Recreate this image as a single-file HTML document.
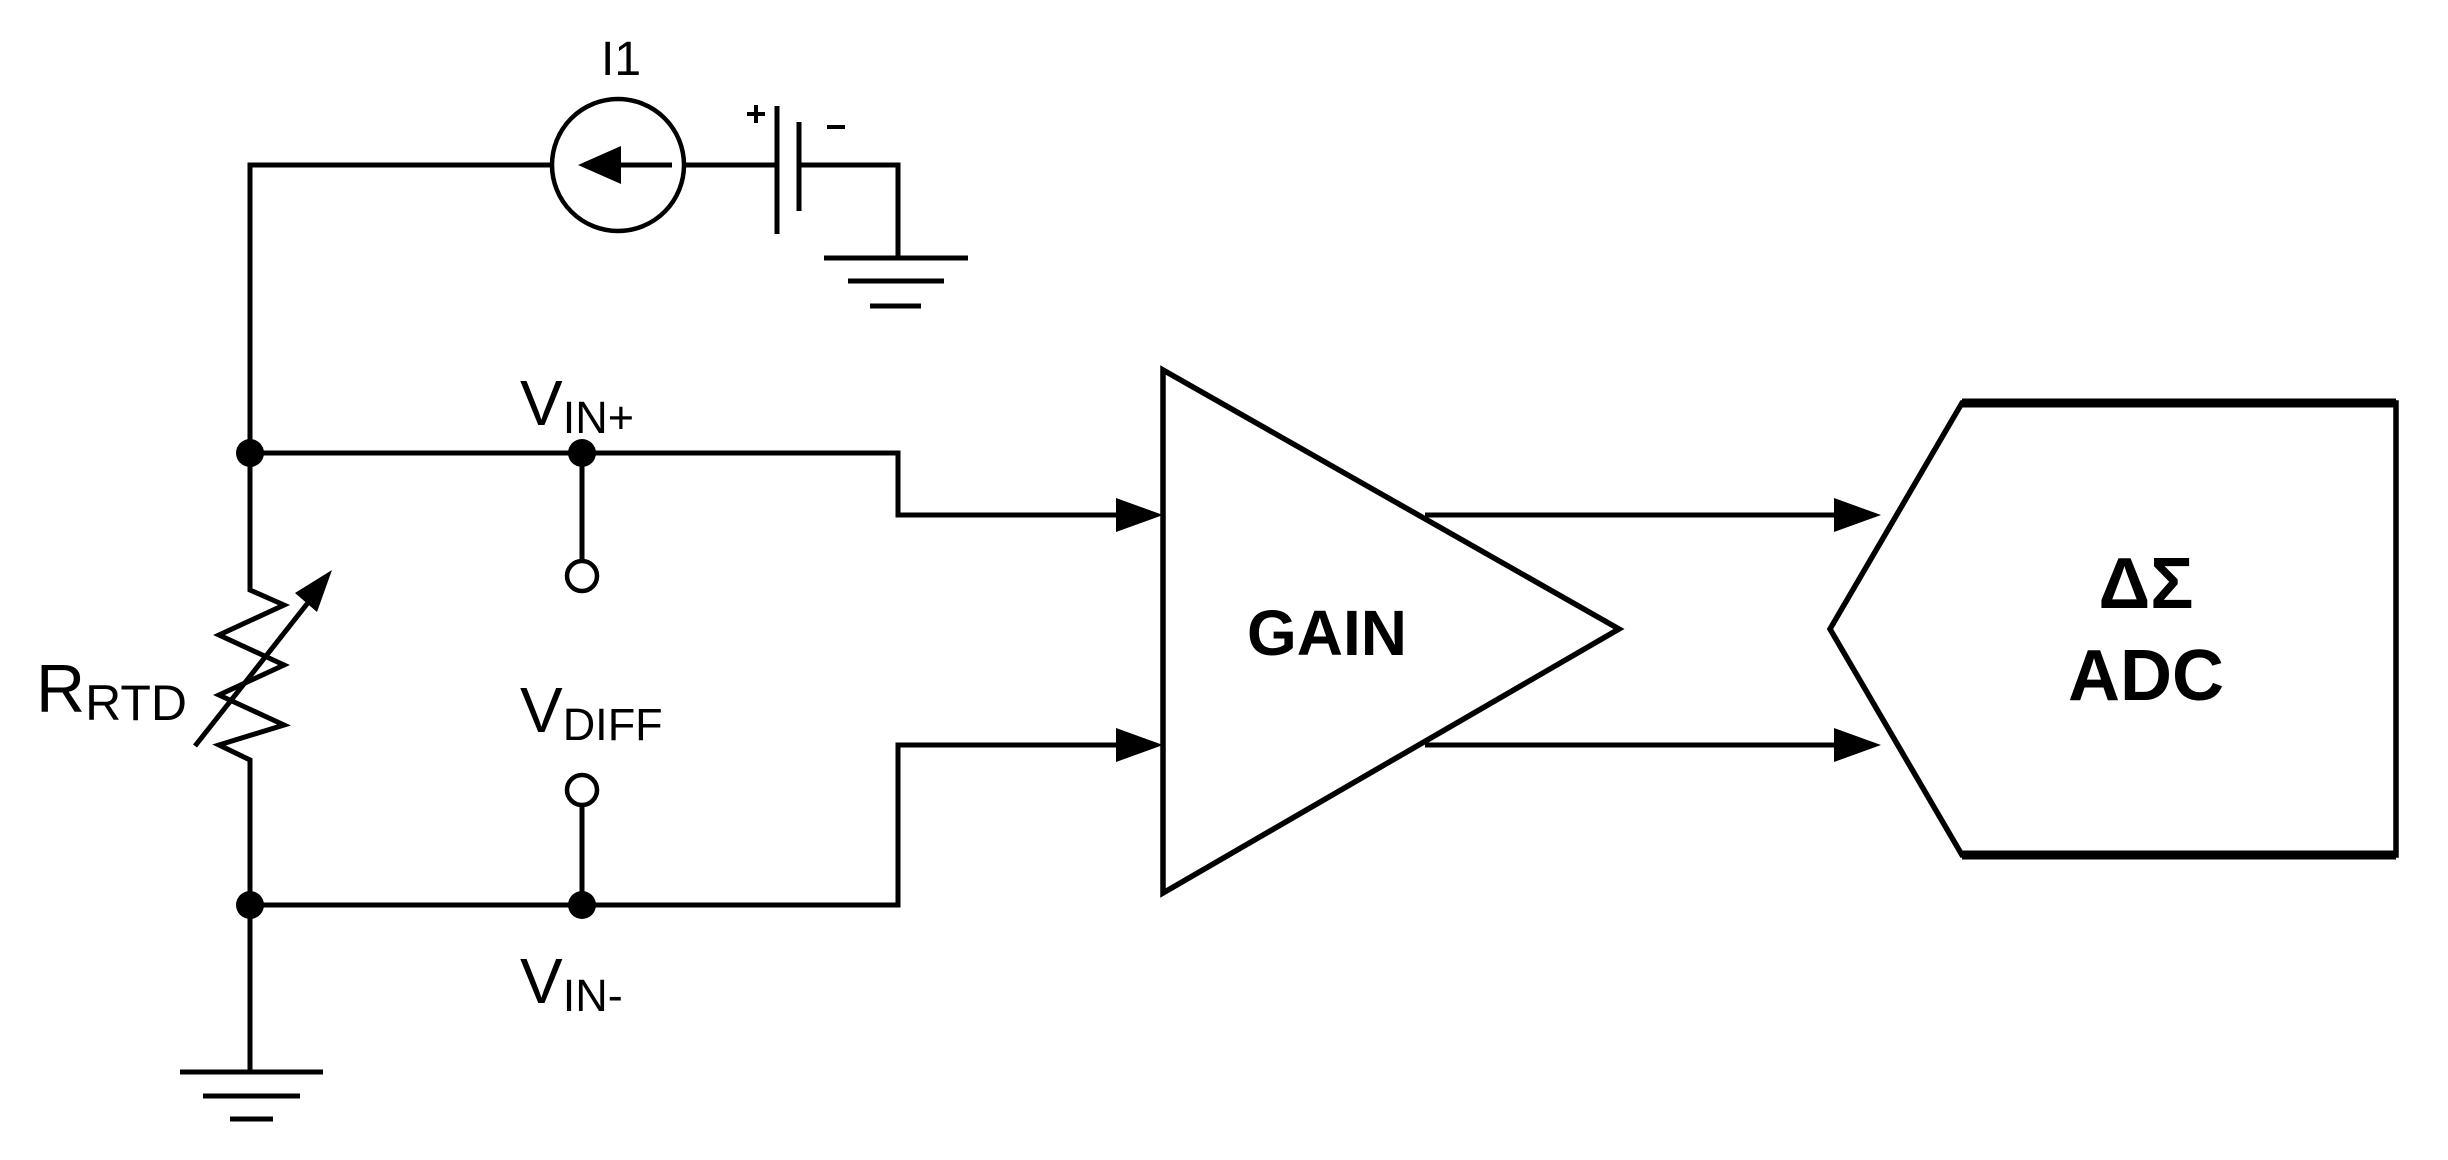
<!DOCTYPE html>
<html><head><meta charset="utf-8"><style>
html,body{margin:0;padding:0;background:#fff;}
svg{display:block;}
text{font-family:"Liberation Sans",Arial,sans-serif;fill:#000;}
</style></head><body>
<svg width="2448" height="1160" viewBox="0 0 2448 1160" xmlns="http://www.w3.org/2000/svg">
<g stroke="#000" stroke-width="5" fill="none" stroke-linejoin="miter">
<polyline points="250,453 250,165 552,165"/>
<circle cx="618" cy="165" r="66" stroke-width="4.5"/>
<line x1="621" y1="165" x2="672" y2="165"/>
<line x1="684" y1="165" x2="777" y2="165"/>
<line x1="777" y1="106" x2="777" y2="234"/>
<line x1="799" y1="122" x2="799" y2="211"/>
<polyline points="799,165 898,165 898,258"/>
<line x1="824" y1="258" x2="968" y2="258"/>
<line x1="848" y1="281" x2="944" y2="281"/>
<line x1="870" y1="306" x2="921" y2="306"/>
<line x1="747" y1="114" x2="765" y2="114" stroke-width="4"/>
<line x1="756" y1="105" x2="756" y2="123" stroke-width="4"/>
<line x1="827" y1="127" x2="845" y2="127" stroke-width="4"/>
<polyline points="250,453 898,453 898,515 1120,515"/>
<line x1="582" y1="453" x2="582" y2="561"/>
<circle cx="582" cy="576" r="15" stroke-width="4.5"/>
<circle cx="582" cy="790" r="15" stroke-width="4.5"/>
<line x1="582" y1="805" x2="582" y2="905"/>
<polyline points="250,905 898,905 898,745 1120,745"/>
<polyline points="250,453 250,590 284,605 219,635 284,665 219,695 284,725 219,745 250,760 250,1072"/>
<line x1="195" y1="746" x2="318" y2="590"/>
<line x1="180" y1="1072" x2="323" y2="1072"/>
<line x1="203" y1="1096" x2="300" y2="1096"/>
<line x1="230" y1="1119" x2="273" y2="1119"/>
<polygon points="1163,370 1163,893 1619,629" stroke-width="5.5"/>
<line x1="1425" y1="515" x2="1840" y2="515"/>
<line x1="1425" y1="745" x2="1840" y2="745"/>
<polygon points="1962,403 2396,403 2396,855 1962,855 1830,629" stroke-width="5.5"/>
<line x1="1962" y1="403" x2="2396" y2="403" stroke-width="9"/>
<line x1="1962" y1="855" x2="2396" y2="855" stroke-width="9"/>
</g>
<g fill="#000">
<polygon points="578,165 621,146 621,184"/>
<polygon points="1163,515 1116,498 1116,532"/>
<polygon points="1163,745 1116,728 1116,762"/>
<polygon points="1881,515 1834,498 1834,532"/>
<polygon points="1881,745 1834,728 1834,762"/>
<polygon points="332,570 295,593 317,612"/>
<circle cx="250" cy="453" r="14"/>
<circle cx="582" cy="453" r="14"/>
<circle cx="250" cy="905" r="14"/>
<circle cx="582" cy="905" r="14"/>
</g>
<text x="621" y="75" font-size="48" text-anchor="middle">I1</text>
<text x="520" y="425" font-size="64">V<tspan font-size="45" dy="8">IN+</tspan></text>
<text x="520" y="732" font-size="64">V<tspan font-size="45" dy="8">DIFF</tspan></text>
<text x="520" y="1003" font-size="64">V<tspan font-size="45" dy="8">IN-</tspan></text>
<text x="36" y="712" font-size="68">R<tspan font-size="50" dy="8">RTD</tspan></text>
<text x="1327" y="655" font-size="64" font-weight="bold" text-anchor="middle">GAIN</text>
<text x="2146" y="608" font-size="72" font-weight="bold" text-anchor="middle">ΔΣ</text>
<text x="2146" y="700" font-size="72" font-weight="bold" text-anchor="middle">ADC</text>
</svg>
</body></html>
